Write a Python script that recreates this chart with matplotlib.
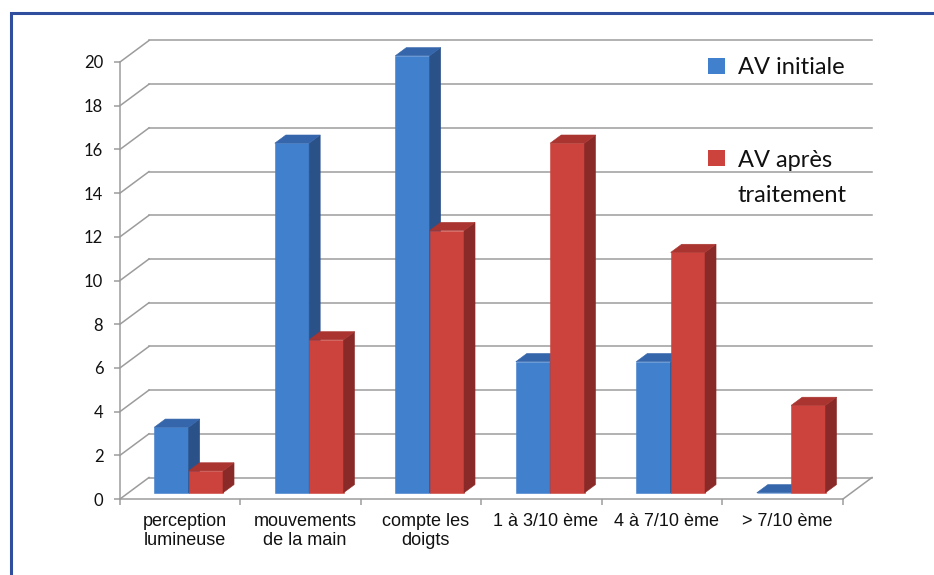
import matplotlib
matplotlib.use("Agg")
import matplotlib.pyplot as plt
from matplotlib.patches import Polygon, Rectangle
from matplotlib.lines import Line2D

# ---- data -------------------------------------------------------------
categories = ["perception\nlumineuse", "mouvements\nde la main", "compte les\ndoigts",
              "1 à 3/10 ème", "4 à 7/10 ème", "> 7/10 ème"]
av_initiale = [3, 16, 20, 6, 6, 0]
av_apres = [1, 7, 12, 16, 11, 4]
series_names = ["AV initiale", "AV après\ntraitement"]
y_ticks = list(range(0, 21, 2))

# ---- style ------------------------------------------------------------
W, H, DPI = 934, 575, 100
GRID = "#9c9c9c"
BLUE = ("#4180cc", "#2b5189", "#3566ab")   # front, side, top
RED = ("#cc433d", "#8a2a28", "#aa342f")
FRAME = "#2f4f9e"
DEPTH_PX = (29.0, 21.5)      # oblique depth of the floor / side wall
BAR_DEPTH = (0.29, 0.67)     # bars sit in the middle of the depth
BAR_W = 0.285
BAR_START = 0.215

fig = plt.figure(figsize=(W / DPI, H / DPI), dpi=DPI)
fig.patch.set_facecolor("white")

# axes: x in category units (0..6), y in count units (0..20)
ax = fig.add_axes([120 / W, 76 / H, 723 / W, 437 / H])
ax.set_xlim(0, len(categories))
ax.set_ylim(0, 20)
ax.set_facecolor("none")

p0 = ax.transData.transform((0, 0))
p1 = ax.transData.transform((1, 1))
DX = DEPTH_PX[0] / (p1[0] - p0[0])
DY = DEPTH_PX[1] / (p1[1] - p0[1])


def proj(x, y, d):
    return (x + d * DX, y + d * DY)


n = len(categories)
# back wall and side wall gridlines
for v in y_ticks:
    xs, ys = zip(proj(0, v, 1), proj(n, v, 1))
    ax.add_line(Line2D(xs, ys, color=GRID, lw=1.1, clip_on=False, zorder=1))
    xs, ys = zip(proj(0, v, 0), proj(0, v, 1))
    ax.add_line(Line2D(xs, ys, color=GRID, lw=1.1, clip_on=False, zorder=1))
# right edge of the floor
xs, ys = zip(proj(n, 0, 0), proj(n, 0, 1))
ax.add_line(Line2D(xs, ys, color=GRID, lw=1.1, clip_on=False, zorder=1))


def draw_bar(x0, h, cols):
    f0, f1 = BAR_DEPTH
    x1 = x0 + BAR_W
    front = [proj(x0, 0, f0), proj(x1, 0, f0), proj(x1, h, f0), proj(x0, h, f0)]
    side = [proj(x1, 0, f0), proj(x1, 0, f1), proj(x1, h, f1), proj(x1, h, f0)]
    top = [proj(x0, h, f0), proj(x1, h, f0), proj(x1, h, f1), proj(x0, h, f1)]
    for poly, c in ((front, cols[0]), (side, cols[1]), (top, cols[2])):
        ax.add_patch(Polygon(poly, closed=True, facecolor=c, edgecolor=c,
                             lw=0.4, clip_on=False, zorder=3))


for i in range(n):
    draw_bar(i + BAR_START, av_initiale[i], BLUE)
    draw_bar(i + BAR_START + BAR_W, av_apres[i], RED)

# front axes
for side in ("top", "right"):
    ax.spines[side].set_visible(False)
for side in ("left", "bottom"):
    ax.spines[side].set_color(GRID)
    ax.spines[side].set_linewidth(1.1)
    ax.spines[side].set_zorder(2)

ax.set_yticks(y_ticks)
ax.set_yticklabels([str(v) for v in y_ticks], fontfamily="Lato", fontsize=12)
ax.tick_params(axis="y", length=4.5, width=1.1, color=GRID, pad=7.5, labelcolor="#111111")

ax.set_xticks(range(n + 1))
ax.set_xticklabels([])
ax.set_xticks([i + 0.535 for i in range(n)], minor=True)
ax.set_xticklabels(categories, minor=True, fontfamily="Liberation Sans",
                   fontsize=13, linespacing=1.2, color="#111111")
ax.tick_params(axis="x", which="major", length=4.5, width=1.1, color=GRID)
ax.tick_params(axis="x", which="minor", length=0, pad=10)

# legend
def px_rect(x, y, w, h, color):
    fig.add_artist(Rectangle((x / W, 1 - (y + h) / H), w / W, h / H,
                             facecolor=color, edgecolor="none",
                             transform=fig.transFigure))


px_rect(708, 58, 17, 16, BLUE[0])
px_rect(708, 150, 17, 16, RED[0])
legend_rows = [(series_names[0], 73.5)]
for k, line in enumerate(series_names[1].split("\n")):
    legend_rows.append((line, 167 + 35 * k))
for txt, base in legend_rows:
    fig.text(738 / W, 1 - base / H, txt, fontfamily="Lato", fontsize=17,
             va="baseline", ha="left", color="#111111")

# outer frame
fig.add_artist(Rectangle((11 / W, -0.1), 1.2, 1 - 13 / H + 0.1, facecolor="none",
                         edgecolor=FRAME, lw=2.2, transform=fig.transFigure))

fig.savefig("out.png", dpi=DPI, facecolor="white")
